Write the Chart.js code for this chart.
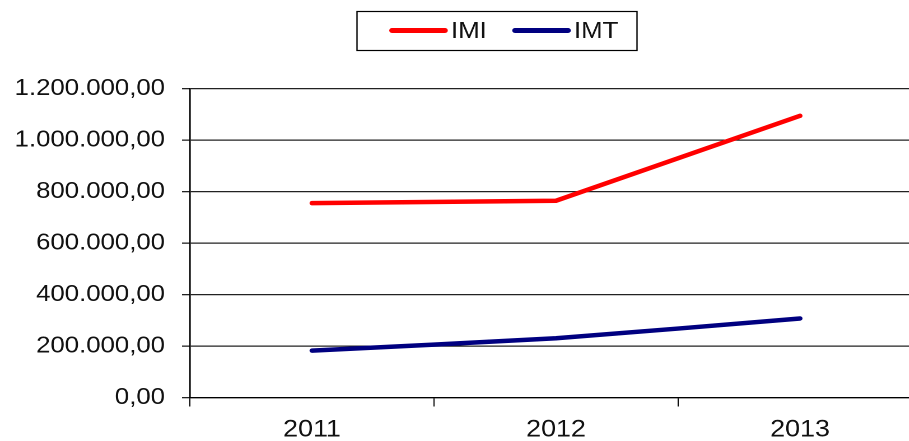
<!DOCTYPE html>
<html>
<head>
<meta charset="utf-8">
<script src="https://cdn.jsdelivr.net/npm/chart.js@4/dist/chart.umd.min.js"></script>
<style>
  html, body { margin: 0; padding: 0; background: #fff; overflow: hidden; }
  #wrap { width: 909px; height: 441px; overflow: hidden; }
  canvas { transform-origin: 0 0; }
</style>
</head>
<body>
<div id="wrap"><canvas id="chart"></canvas></div>
<script>
const years = ['2011', '2012', '2013'];
const imiValues = [755000, 764000, 1094000];
const imtValues = [182000, 230000, 307000];
const seriesNames = ['IMI', 'IMT'];
const seriesColors = ['#ff0000', '#000080'];
const yMax = 1200000;
const yStep = 200000;

// the original is a horizontally stretched excel chart, so draw narrow and stretch
const S = 1.12;
const FONT = 'Arial, "Liberation Sans", sans-serif';
const TEXT = '#111';

const canvas = document.getElementById('chart');
const logicalW = Math.ceil(935 / S);
canvas.width = logicalW;
canvas.height = 441;
canvas.style.transform = `scaleX(${S})`;

function fmt(v) {
    const int = Math.round(v).toString().replace(/\B(?=(\d{3})+(?!\d))/g, '.');
    return int + ',00';
}

const boxedLegend = {
    id: 'boxedLegend',
    afterDraw(chart) {
        const ctx = chart.ctx;
        ctx.save();
        ctx.strokeStyle = '#000';
        ctx.lineWidth = 1.2;
        ctx.strokeRect(357 / S, 11.5, 280 / S, 39);
        const lines = [[392, 445, 451], [515, 568, 574]];
        ctx.font = `23px ${FONT}`;
        ctx.textBaseline = 'middle';
        ctx.fillStyle = TEXT;
        lines.forEach((l, i) => {
            ctx.beginPath();
            ctx.strokeStyle = seriesColors[i];
            ctx.lineWidth = 5;
            ctx.lineCap = 'round';
            ctx.moveTo(l[0] / S, 30.5);
            ctx.lineTo(l[1] / S, 30.5);
            ctx.stroke();
            ctx.fillText(seriesNames[i], l[2] / S, 31.5);
        });
        ctx.restore();
    }
};

new Chart(canvas, {
    type: 'line',
    data: {
        labels: years,
        datasets: [
            {
                label: seriesNames[0],
                data: imiValues,
                borderColor: seriesColors[0],
                backgroundColor: seriesColors[0],
                borderWidth: 4.5,
                borderCapStyle: 'round',
                pointRadius: 0,
                tension: 0
            },
            {
                label: seriesNames[1],
                data: imtValues,
                borderColor: seriesColors[1],
                backgroundColor: seriesColors[1],
                borderWidth: 4.5,
                borderCapStyle: 'round',
                pointRadius: 0,
                tension: 0.15
            }
        ]
    },
    options: {
        responsive: false,
        animation: false,
        devicePixelRatio: 2,
        layout: { padding: { top: 88.5, left: 0, right: logicalW - 922 / S, bottom: 0 } },
        plugins: { legend: { display: false }, tooltip: { enabled: false } },
        scales: {
            x: {
                offset: true,
                grid: { offset: true, drawOnChartArea: false, drawTicks: true, tickLength: 9, color: '#000', lineWidth: 1 },
                border: { display: true, color: '#000', width: 1.3 },
                ticks: { color: TEXT, font: { size: 24, family: FONT }, padding: 9, maxRotation: 0 },
                afterFit(scale) { scale.height = 441 - 397.5; }
            },
            y: {
                min: 0,
                max: yMax,
                ticks: { stepSize: yStep, color: TEXT, font: { size: 23, family: FONT }, padding: 17 / S, callback: v => fmt(v) },
                grid: { color: '#222', lineWidth: 1.3, tickLength: 8 / S },
                border: { display: true, color: '#000', width: 1.3 },
                afterFit(scale) { scale.width = 190 / S; }
            }
        }
    },
    plugins: [boxedLegend]
});
</script>
</body>
</html>
